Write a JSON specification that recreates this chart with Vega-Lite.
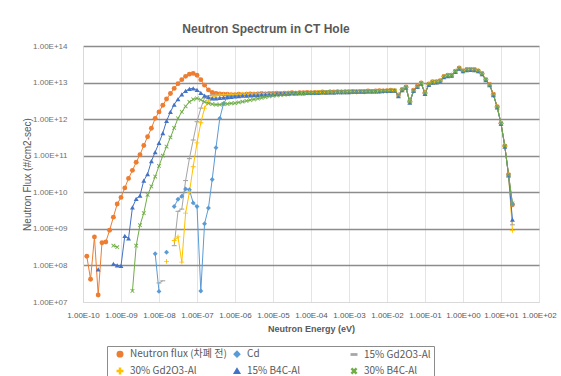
{
"$schema":"https://vega.github.io/schema/vega-lite/v6.json",
"width":456,"height":256,
"autosize":{"type":"none"},
"padding":{"left":83,"top":46,"right":22,"bottom":74},
"background":"white",
"title":{"text":"Neutron Spectrum in CT Hole","font":"Liberation Sans","fontSize":12,"fontWeight":"bold","color":"#595959","anchor":"middle","dx":-45,"offset":6},
"config":{"view":{"stroke":null}},
"data":{"values":[
{"s":"n","e":1.26e-10,"v":1.78e8},{"s":"n","e":1.58e-10,"v":4.17e7},{"s":"n","e":2e-10,"v":6.03e8},{"s":"n","e":2.51e-10,"v":1.55e7},{"s":"n","e":3.16e-10,"v":4.17e8},{"s":"n","e":3.98e-10,"v":4.37e8},{"s":"n","e":5.01e-10,"v":9.12e8},{"s":"n","e":6.31e-10,"v":2.09e9},{"s":"n","e":7.94e-10,"v":4.79e9},{"s":"n","e":1e-9,"v":7.24e9},
{"s":"n","e":1.26e-9,"v":1.32e10},{"s":"n","e":1.58e-9,"v":2.4e10},{"s":"n","e":2e-9,"v":3.98e10},{"s":"n","e":2.51e-9,"v":6.61e10},{"s":"n","e":3.16e-9,"v":1.07e11},{"s":"n","e":3.98e-9,"v":1.91e11},{"s":"n","e":5.01e-9,"v":3.31e11},{"s":"n","e":6.31e-9,"v":5.62e11},{"s":"n","e":7.94e-9,"v":1.05e12},{"s":"n","e":1e-8,"v":1.58e12},
{"s":"n","e":1.26e-8,"v":2.4e12},{"s":"n","e":1.58e-8,"v":3.55e12},{"s":"n","e":2e-8,"v":5.01e12},{"s":"n","e":2.51e-8,"v":6.92e12},{"s":"n","e":3.16e-8,"v":9.33e12},{"s":"n","e":3.98e-8,"v":1.2e13},{"s":"n","e":5.01e-8,"v":1.48e13},{"s":"n","e":6.31e-8,"v":1.7e13},{"s":"n","e":7.94e-8,"v":1.78e13},{"s":"n","e":1e-7,"v":1.58e13},
{"s":"n","e":1.26e-7,"v":1.2e13},{"s":"n","e":1.58e-7,"v":8.51e12},{"s":"n","e":2e-7,"v":6.31e12},{"s":"n","e":2.51e-7,"v":5.37e12},{"s":"n","e":3.16e-7,"v":5.01e12},{"s":"n","e":3.98e-7,"v":4.9e12},{"s":"n","e":5.01e-7,"v":4.79e12},{"s":"n","e":6.31e-7,"v":4.79e12},{"s":"n","e":7.94e-7,"v":4.68e12},{"s":"n","e":1e-6,"v":4.68e12},
{"s":"n","e":1.26e-6,"v":4.79e12},{"s":"n","e":1.58e-6,"v":4.68e12},{"s":"n","e":2e-6,"v":4.79e12},{"s":"n","e":2.51e-6,"v":4.9e12},{"s":"n","e":3.16e-6,"v":4.79e12},{"s":"n","e":3.98e-6,"v":4.9e12},{"s":"n","e":5.01e-6,"v":5.01e12},{"s":"n","e":6.31e-6,"v":4.9e12},{"s":"n","e":7.94e-6,"v":5.01e12},{"s":"n","e":1e-5,"v":5.01e12},
{"s":"n","e":1.26e-5,"v":5.13e12},{"s":"n","e":1.58e-5,"v":5.01e12},{"s":"n","e":2e-5,"v":5.13e12},{"s":"n","e":2.51e-5,"v":5.13e12},{"s":"n","e":3.16e-5,"v":5.25e12},{"s":"n","e":3.98e-5,"v":5.13e12},{"s":"n","e":5.01e-5,"v":5.25e12},{"s":"n","e":6.31e-5,"v":5.25e12},{"s":"n","e":7.94e-5,"v":5.37e12},{"s":"n","e":1e-4,"v":5.25e12},
{"s":"n","e":1.26e-4,"v":5.37e12},{"s":"n","e":1.58e-4,"v":5.37e12},{"s":"n","e":2e-4,"v":5.5e12},{"s":"n","e":2.51e-4,"v":5.37e12},{"s":"n","e":3.16e-4,"v":5.5e12},{"s":"n","e":3.98e-4,"v":5.5e12},{"s":"n","e":5.01e-4,"v":5.62e12},{"s":"n","e":6.31e-4,"v":5.5e12},{"s":"n","e":7.94e-4,"v":5.62e12},{"s":"n","e":1e-3,"v":5.62e12},
{"s":"n","e":1.26e-3,"v":5.75e12},{"s":"n","e":1.58e-3,"v":5.62e12},{"s":"n","e":2e-3,"v":5.75e12},{"s":"n","e":2.51e-3,"v":5.75e12},{"s":"n","e":3.16e-3,"v":5.89e12},{"s":"n","e":3.98e-3,"v":5.75e12},{"s":"n","e":5.01e-3,"v":5.89e12},{"s":"n","e":6.31e-3,"v":6.03e12},{"s":"n","e":7.94e-3,"v":5.89e12},{"s":"n","e":1e-2,"v":6.03e12},
{"s":"n","e":1.26e-2,"v":6.17e12},{"s":"n","e":1.58e-2,"v":6.03e12},{"s":"n","e":2e-2,"v":4.57e12},{"s":"n","e":2.51e-2,"v":6.46e12},{"s":"n","e":3.16e-2,"v":7.59e12},{"s":"n","e":3.98e-2,"v":3.09e12},{"s":"n","e":5.01e-2,"v":6.17e12},{"s":"n","e":6.31e-2,"v":7.94e12},{"s":"n","e":7.94e-2,"v":9.77e12},{"s":"n","e":0.1,"v":5.25e12},
{"s":"n","e":0.126,"v":9.12e12},{"s":"n","e":0.158,"v":1.05e13},{"s":"n","e":0.2,"v":1.05e13},{"s":"n","e":0.251,"v":1.12e13},{"s":"n","e":0.316,"v":1.48e13},{"s":"n","e":0.398,"v":1.58e13},{"s":"n","e":0.501,"v":1.58e13},{"s":"n","e":0.631,"v":2.04e13},{"s":"n","e":0.794,"v":2.51e13},{"s":"n","e":1,"v":2.09e13},
{"s":"n","e":1.26,"v":2.29e13},{"s":"n","e":1.58,"v":2.29e13},{"s":"n","e":2,"v":2.29e13},{"s":"n","e":2.51,"v":2.09e13},{"s":"n","e":3.16,"v":1.78e13},{"s":"n","e":3.98,"v":1.2e13},{"s":"n","e":5.01,"v":8.91e12},{"s":"n","e":6.31,"v":4.79e12},{"s":"n","e":7.94,"v":2.19e12},{"s":"n","e":10,"v":7.76e11},
{"s":"n","e":12.6,"v":1.86e11},{"s":"n","e":15.8,"v":3.02e10},{"s":"n","e":20,"v":4.57e9},

{"s":"cd","e":7.94e-9,"v":2.09e8},{"s":"cd","e":1e-8,"v":1.95e7},{"s":"cd","e":1.26e-8,"v":null},{"s":"cd","e":1.58e-8,"v":2.29e8},{"s":"cd","e":2e-8,"v":null},{"s":"cd","e":2.51e-8,"v":4.07e9},{"s":"cd","e":3.16e-8,"v":6.46e9},{"s":"cd","e":3.98e-8,"v":7.76e9},{"s":"cd","e":5.01e-8,"v":1.23e10},{"s":"cd","e":6.31e-8,"v":1.17e10},{"s":"cd","e":7.94e-8,"v":5.13e9},{"s":"cd","e":1e-7,"v":4.07e9},
{"s":"cd","e":1.26e-7,"v":2e7},{"s":"cd","e":1.58e-7,"v":1.38e9},{"s":"cd","e":2e-7,"v":3.72e9},{"s":"cd","e":2.51e-7,"v":2.24e10},{"s":"cd","e":3.16e-7,"v":1.66e11},{"s":"cd","e":3.98e-7,"v":1.05e12},{"s":"cd","e":5.01e-7,"v":2.69e12},{"s":"cd","e":6.31e-7,"v":3.98e12},{"s":"cd","e":7.94e-7,"v":4.27e12},{"s":"cd","e":1e-6,"v":4.37e12},
{"s":"cd","e":1.26e-6,"v":4.47e12},{"s":"cd","e":1.58e-6,"v":4.57e12},{"s":"cd","e":2e-6,"v":4.57e12},{"s":"cd","e":2.51e-6,"v":4.68e12},{"s":"cd","e":3.16e-6,"v":4.68e12},{"s":"cd","e":3.98e-6,"v":4.79e12},{"s":"cd","e":5.01e-6,"v":4.79e12},{"s":"cd","e":6.31e-6,"v":4.9e12},{"s":"cd","e":7.94e-6,"v":4.9e12},{"s":"cd","e":1e-5,"v":4.9e12},
{"s":"cd","e":1.26e-5,"v":5.01e12},{"s":"cd","e":1.58e-5,"v":5.01e12},{"s":"cd","e":2e-5,"v":5.01e12},{"s":"cd","e":2.51e-5,"v":5.13e12},{"s":"cd","e":3.16e-5,"v":5.13e12},{"s":"cd","e":3.98e-5,"v":5.13e12},{"s":"cd","e":5.01e-5,"v":5.25e12},{"s":"cd","e":6.31e-5,"v":5.13e12},{"s":"cd","e":7.94e-5,"v":5.25e12},{"s":"cd","e":1e-4,"v":5.25e12},
{"s":"cd","e":1.26e-4,"v":5.25e12},{"s":"cd","e":1.58e-4,"v":5.37e12},{"s":"cd","e":2e-4,"v":5.37e12},{"s":"cd","e":2.51e-4,"v":5.37e12},{"s":"cd","e":3.16e-4,"v":5.5e12},{"s":"cd","e":3.98e-4,"v":5.37e12},{"s":"cd","e":5.01e-4,"v":5.5e12},{"s":"cd","e":6.31e-4,"v":5.5e12},{"s":"cd","e":7.94e-4,"v":5.5e12},{"s":"cd","e":1e-3,"v":5.62e12},
{"s":"cd","e":1.26e-3,"v":5.62e12},{"s":"cd","e":1.58e-3,"v":5.62e12},{"s":"cd","e":2e-3,"v":5.75e12},{"s":"cd","e":2.51e-3,"v":5.62e12},{"s":"cd","e":3.16e-3,"v":5.75e12},{"s":"cd","e":3.98e-3,"v":5.75e12},{"s":"cd","e":5.01e-3,"v":5.75e12},{"s":"cd","e":6.31e-3,"v":5.89e12},{"s":"cd","e":7.94e-3,"v":5.89e12},{"s":"cd","e":1e-2,"v":5.89e12},
{"s":"cd","e":1.26e-2,"v":6.03e12},{"s":"cd","e":1.58e-2,"v":6.03e12},{"s":"cd","e":2e-2,"v":4.47e12},{"s":"cd","e":2.51e-2,"v":6.31e12},{"s":"cd","e":3.16e-2,"v":7.41e12},{"s":"cd","e":3.98e-2,"v":2.95e12},{"s":"cd","e":5.01e-2,"v":6.03e12},{"s":"cd","e":6.31e-2,"v":7.76e12},{"s":"cd","e":7.94e-2,"v":9.55e12},{"s":"cd","e":0.1,"v":5.13e12},
{"s":"cd","e":0.126,"v":8.91e12},{"s":"cd","e":0.158,"v":1.02e13},{"s":"cd","e":0.2,"v":1.05e13},{"s":"cd","e":0.251,"v":1.1e13},{"s":"cd","e":0.316,"v":1.45e13},{"s":"cd","e":0.398,"v":1.55e13},{"s":"cd","e":0.501,"v":1.58e13},{"s":"cd","e":0.631,"v":2e13},{"s":"cd","e":0.794,"v":2.45e13},{"s":"cd","e":1,"v":2.09e13},
{"s":"cd","e":1.26,"v":2.24e13},{"s":"cd","e":1.58,"v":2.29e13},{"s":"cd","e":2,"v":2.24e13},{"s":"cd","e":2.51,"v":2.09e13},{"s":"cd","e":3.16,"v":1.74e13},{"s":"cd","e":3.98,"v":1.2e13},{"s":"cd","e":5.01,"v":8.71e12},{"s":"cd","e":6.31,"v":4.68e12},{"s":"cd","e":7.94,"v":2.14e12},{"s":"cd","e":10,"v":7.59e11},
{"s":"cd","e":12.6,"v":1.82e11},{"s":"cd","e":15.8,"v":2.95e10},{"s":"cd","e":20,"v":4.79e9},

{"s":"g15","e":1e-8,"v":3.31e7},{"s":"g15","e":1.26e-8,"v":3.8e7},{"s":"g15","e":1.58e-8,"v":null},{"s":"g15","e":2.51e-8,"v":3.47e8},{"s":"g15","e":3.16e-8,"v":3.02e9},{"s":"g15","e":3.98e-8,"v":3.47e9},{"s":"g15","e":5.01e-8,"v":2.09e10},{"s":"g15","e":6.31e-8,"v":8.32e10},{"s":"g15","e":7.94e-8,"v":2.69e11},{"s":"g15","e":1e-7,"v":8.51e11},
{"s":"g15","e":1.26e-7,"v":2e12},{"s":"g15","e":1.58e-7,"v":3.8e12},{"s":"g15","e":2e-7,"v":4.37e12},{"s":"g15","e":2.51e-7,"v":4.57e12},{"s":"g15","e":3.16e-7,"v":4.57e12},{"s":"g15","e":3.98e-7,"v":4.57e12},{"s":"g15","e":5.01e-7,"v":4.68e12},{"s":"g15","e":6.31e-7,"v":4.68e12},{"s":"g15","e":7.94e-7,"v":4.57e12},{"s":"g15","e":1e-6,"v":4.68e12},
{"s":"g15","e":1.26e-6,"v":4.68e12},{"s":"g15","e":1.58e-6,"v":4.79e12},{"s":"g15","e":2e-6,"v":4.68e12},{"s":"g15","e":2.51e-6,"v":4.79e12},{"s":"g15","e":3.16e-6,"v":4.79e12},{"s":"g15","e":3.98e-6,"v":4.9e12},{"s":"g15","e":5.01e-6,"v":4.9e12},{"s":"g15","e":6.31e-6,"v":4.9e12},{"s":"g15","e":7.94e-6,"v":5.01e12},{"s":"g15","e":1e-5,"v":4.9e12},
{"s":"g15","e":1.26e-5,"v":5.01e12},{"s":"g15","e":1.58e-5,"v":5.01e12},{"s":"g15","e":2e-5,"v":5.13e12},{"s":"g15","e":2.51e-5,"v":5.13e12},{"s":"g15","e":3.16e-5,"v":5.13e12},{"s":"g15","e":3.98e-5,"v":5.13e12},{"s":"g15","e":5.01e-5,"v":5.25e12},{"s":"g15","e":6.31e-5,"v":5.25e12},{"s":"g15","e":7.94e-5,"v":5.25e12},{"s":"g15","e":1e-4,"v":5.25e12},
{"s":"g15","e":1.26e-4,"v":5.37e12},{"s":"g15","e":1.58e-4,"v":5.37e12},{"s":"g15","e":2e-4,"v":5.37e12},{"s":"g15","e":2.51e-4,"v":5.37e12},{"s":"g15","e":3.16e-4,"v":5.5e12},{"s":"g15","e":3.98e-4,"v":5.5e12},{"s":"g15","e":5.01e-4,"v":5.5e12},{"s":"g15","e":6.31e-4,"v":5.5e12},{"s":"g15","e":7.94e-4,"v":5.62e12},{"s":"g15","e":1e-3,"v":5.62e12},
{"s":"g15","e":1.26e-3,"v":5.62e12},{"s":"g15","e":1.58e-3,"v":5.62e12},{"s":"g15","e":2e-3,"v":5.75e12},{"s":"g15","e":2.51e-3,"v":5.75e12},{"s":"g15","e":3.16e-3,"v":5.75e12},{"s":"g15","e":3.98e-3,"v":5.75e12},{"s":"g15","e":5.01e-3,"v":5.89e12},{"s":"g15","e":6.31e-3,"v":5.89e12},{"s":"g15","e":7.94e-3,"v":5.89e12},{"s":"g15","e":1e-2,"v":5.89e12},
{"s":"g15","e":1.26e-2,"v":6.03e12},{"s":"g15","e":1.58e-2,"v":6.03e12},{"s":"g15","e":2e-2,"v":4.47e12},{"s":"g15","e":2.51e-2,"v":6.31e12},{"s":"g15","e":3.16e-2,"v":7.41e12},{"s":"g15","e":3.98e-2,"v":2.95e12},{"s":"g15","e":5.01e-2,"v":6.03e12},{"s":"g15","e":6.31e-2,"v":7.76e12},{"s":"g15","e":7.94e-2,"v":9.55e12},{"s":"g15","e":0.1,"v":5.13e12},
{"s":"g15","e":0.126,"v":8.91e12},{"s":"g15","e":0.158,"v":1.02e13},{"s":"g15","e":0.2,"v":1.05e13},{"s":"g15","e":0.251,"v":1.1e13},{"s":"g15","e":0.316,"v":1.45e13},{"s":"g15","e":0.398,"v":1.55e13},{"s":"g15","e":0.501,"v":1.58e13},{"s":"g15","e":0.631,"v":2e13},{"s":"g15","e":0.794,"v":2.45e13},{"s":"g15","e":1,"v":2.09e13},
{"s":"g15","e":1.26,"v":2.24e13},{"s":"g15","e":1.58,"v":2.29e13},{"s":"g15","e":2,"v":2.24e13},{"s":"g15","e":2.51,"v":2.09e13},{"s":"g15","e":3.16,"v":1.74e13},{"s":"g15","e":3.98,"v":1.2e13},{"s":"g15","e":5.01,"v":8.71e12},{"s":"g15","e":6.31,"v":4.68e12},{"s":"g15","e":7.94,"v":2.14e12},{"s":"g15","e":10,"v":7.59e11},
{"s":"g15","e":12.6,"v":1.82e11},{"s":"g15","e":15.8,"v":2.95e10},{"s":"g15","e":20,"v":1.29e9},

{"s":"g30","e":1.58e-8,"v":1.29e8},{"s":"g30","e":2e-8,"v":null},{"s":"g30","e":2.51e-8,"v":4.79e8},{"s":"g30","e":3.16e-8,"v":6.03e8},{"s":"g30","e":3.98e-8,"v":1.23e8},{"s":"g30","e":5.01e-8,"v":2.69e9},{"s":"g30","e":6.31e-8,"v":1e10},{"s":"g30","e":7.94e-8,"v":5.01e10},{"s":"g30","e":1e-7,"v":2.24e11},
{"s":"g30","e":1.26e-7,"v":7.94e11},{"s":"g30","e":1.58e-7,"v":2e12},{"s":"g30","e":2e-7,"v":3.16e12},{"s":"g30","e":2.51e-7,"v":3.98e12},{"s":"g30","e":3.16e-7,"v":4.37e12},{"s":"g30","e":3.98e-7,"v":4.57e12},{"s":"g30","e":5.01e-7,"v":4.68e12},{"s":"g30","e":6.31e-7,"v":4.68e12},{"s":"g30","e":7.94e-7,"v":4.79e12},{"s":"g30","e":1e-6,"v":4.68e12},
{"s":"g30","e":1.26e-6,"v":4.79e12},{"s":"g30","e":1.58e-6,"v":4.79e12},{"s":"g30","e":2e-6,"v":4.79e12},{"s":"g30","e":2.51e-6,"v":4.9e12},{"s":"g30","e":3.16e-6,"v":4.9e12},{"s":"g30","e":3.98e-6,"v":4.9e12},{"s":"g30","e":5.01e-6,"v":5.01e12},{"s":"g30","e":6.31e-6,"v":5.01e12},{"s":"g30","e":7.94e-6,"v":5.01e12},{"s":"g30","e":1e-5,"v":4.9e12},
{"s":"g30","e":1.26e-5,"v":5.01e12},{"s":"g30","e":1.58e-5,"v":5.01e12},{"s":"g30","e":2e-5,"v":5.01e12},{"s":"g30","e":2.51e-5,"v":5.13e12},{"s":"g30","e":3.16e-5,"v":5.13e12},{"s":"g30","e":3.98e-5,"v":5.13e12},{"s":"g30","e":5.01e-5,"v":5.25e12},{"s":"g30","e":6.31e-5,"v":5.13e12},{"s":"g30","e":7.94e-5,"v":5.25e12},{"s":"g30","e":1e-4,"v":5.25e12},
{"s":"g30","e":1.26e-4,"v":5.25e12},{"s":"g30","e":1.58e-4,"v":5.37e12},{"s":"g30","e":2e-4,"v":5.37e12},{"s":"g30","e":2.51e-4,"v":5.37e12},{"s":"g30","e":3.16e-4,"v":5.5e12},{"s":"g30","e":3.98e-4,"v":5.37e12},{"s":"g30","e":5.01e-4,"v":5.5e12},{"s":"g30","e":6.31e-4,"v":5.5e12},{"s":"g30","e":7.94e-4,"v":5.5e12},{"s":"g30","e":1e-3,"v":5.62e12},
{"s":"g30","e":1.26e-3,"v":5.62e12},{"s":"g30","e":1.58e-3,"v":5.62e12},{"s":"g30","e":2e-3,"v":5.75e12},{"s":"g30","e":2.51e-3,"v":5.62e12},{"s":"g30","e":3.16e-3,"v":5.75e12},{"s":"g30","e":3.98e-3,"v":5.75e12},{"s":"g30","e":5.01e-3,"v":5.75e12},{"s":"g30","e":6.31e-3,"v":5.89e12},{"s":"g30","e":7.94e-3,"v":5.89e12},{"s":"g30","e":1e-2,"v":5.89e12},
{"s":"g30","e":1.26e-2,"v":6.03e12},{"s":"g30","e":1.58e-2,"v":6.03e12},{"s":"g30","e":2e-2,"v":4.47e12},{"s":"g30","e":2.51e-2,"v":6.31e12},{"s":"g30","e":3.16e-2,"v":7.41e12},{"s":"g30","e":3.98e-2,"v":2.95e12},{"s":"g30","e":5.01e-2,"v":6.03e12},{"s":"g30","e":6.31e-2,"v":7.76e12},{"s":"g30","e":7.94e-2,"v":9.55e12},{"s":"g30","e":0.1,"v":5.13e12},
{"s":"g30","e":0.126,"v":8.91e12},{"s":"g30","e":0.158,"v":1.02e13},{"s":"g30","e":0.2,"v":1.05e13},{"s":"g30","e":0.251,"v":1.1e13},{"s":"g30","e":0.316,"v":1.45e13},{"s":"g30","e":0.398,"v":1.55e13},{"s":"g30","e":0.501,"v":1.58e13},{"s":"g30","e":0.631,"v":2e13},{"s":"g30","e":0.794,"v":2.45e13},{"s":"g30","e":1,"v":2.09e13},
{"s":"g30","e":1.26,"v":2.24e13},{"s":"g30","e":1.58,"v":2.29e13},{"s":"g30","e":2,"v":2.24e13},{"s":"g30","e":2.51,"v":2.09e13},{"s":"g30","e":3.16,"v":1.74e13},{"s":"g30","e":3.98,"v":1.2e13},{"s":"g30","e":5.01,"v":8.71e12},{"s":"g30","e":6.31,"v":4.68e12},{"s":"g30","e":7.94,"v":2.14e12},{"s":"g30","e":10,"v":7.59e11},
{"s":"g30","e":12.6,"v":1.82e11},{"s":"g30","e":15.8,"v":2.95e10},{"s":"g30","e":20,"v":9.12e8},

{"s":"b15","e":2.51e-10,"v":7.76e7},{"s":"b15","e":3.16e-10,"v":null},{"s":"b15","e":6.31e-10,"v":1.1e8},{"s":"b15","e":7.94e-10,"v":1e8},{"s":"b15","e":1e-9,"v":9.77e7},
{"s":"b15","e":1.26e-9,"v":6.46e8},{"s":"b15","e":1.58e-9,"v":5.5e8},{"s":"b15","e":2e-9,"v":3.89e9},{"s":"b15","e":2.51e-9,"v":6.61e9},{"s":"b15","e":3.16e-9,"v":8.13e9},{"s":"b15","e":3.98e-9,"v":2.09e10},{"s":"b15","e":5.01e-9,"v":3.16e10},{"s":"b15","e":6.31e-9,"v":7.08e10},{"s":"b15","e":7.94e-9,"v":1.26e11},{"s":"b15","e":1e-8,"v":2.24e11},
{"s":"b15","e":1.26e-8,"v":4.17e11},{"s":"b15","e":1.58e-8,"v":8.91e11},{"s":"b15","e":2e-8,"v":1.58e12},{"s":"b15","e":2.51e-8,"v":2.51e12},{"s":"b15","e":3.16e-8,"v":3.55e12},{"s":"b15","e":3.98e-8,"v":4.79e12},{"s":"b15","e":5.01e-8,"v":5.89e12},{"s":"b15","e":6.31e-8,"v":6.76e12},{"s":"b15","e":7.94e-8,"v":6.92e12},{"s":"b15","e":1e-7,"v":6.31e12},
{"s":"b15","e":1.26e-7,"v":5.25e12},{"s":"b15","e":1.58e-7,"v":4.37e12},{"s":"b15","e":2e-7,"v":3.98e12},{"s":"b15","e":2.51e-7,"v":3.72e12},{"s":"b15","e":3.16e-7,"v":3.72e12},{"s":"b15","e":3.98e-7,"v":3.8e12},{"s":"b15","e":5.01e-7,"v":3.89e12},{"s":"b15","e":6.31e-7,"v":3.98e12},{"s":"b15","e":7.94e-7,"v":4.07e12},{"s":"b15","e":1e-6,"v":4.17e12},
{"s":"b15","e":1.26e-6,"v":4.27e12},{"s":"b15","e":1.58e-6,"v":4.37e12},{"s":"b15","e":2e-6,"v":4.37e12},{"s":"b15","e":2.51e-6,"v":4.47e12},{"s":"b15","e":3.16e-6,"v":4.57e12},{"s":"b15","e":3.98e-6,"v":4.57e12},{"s":"b15","e":5.01e-6,"v":4.68e12},{"s":"b15","e":6.31e-6,"v":4.68e12},{"s":"b15","e":7.94e-6,"v":4.79e12},{"s":"b15","e":1e-5,"v":4.79e12},
{"s":"b15","e":1.26e-5,"v":4.9e12},{"s":"b15","e":1.58e-5,"v":5.01e12},{"s":"b15","e":2e-5,"v":5.01e12},{"s":"b15","e":2.51e-5,"v":5.01e12},{"s":"b15","e":3.16e-5,"v":5.13e12},{"s":"b15","e":3.98e-5,"v":5.13e12},{"s":"b15","e":5.01e-5,"v":5.13e12},{"s":"b15","e":6.31e-5,"v":5.13e12},{"s":"b15","e":7.94e-5,"v":5.25e12},{"s":"b15","e":1e-4,"v":5.25e12},
{"s":"b15","e":1.26e-4,"v":5.25e12},{"s":"b15","e":1.58e-4,"v":5.25e12},{"s":"b15","e":2e-4,"v":5.37e12},{"s":"b15","e":2.51e-4,"v":5.37e12},{"s":"b15","e":3.16e-4,"v":5.37e12},{"s":"b15","e":3.98e-4,"v":5.37e12},{"s":"b15","e":5.01e-4,"v":5.5e12},{"s":"b15","e":6.31e-4,"v":5.5e12},{"s":"b15","e":7.94e-4,"v":5.5e12},{"s":"b15","e":1e-3,"v":5.5e12},
{"s":"b15","e":1.26e-3,"v":5.62e12},{"s":"b15","e":1.58e-3,"v":5.62e12},{"s":"b15","e":2e-3,"v":5.62e12},{"s":"b15","e":2.51e-3,"v":5.62e12},{"s":"b15","e":3.16e-3,"v":5.75e12},{"s":"b15","e":3.98e-3,"v":5.75e12},{"s":"b15","e":5.01e-3,"v":5.75e12},{"s":"b15","e":6.31e-3,"v":5.75e12},{"s":"b15","e":7.94e-3,"v":5.89e12},{"s":"b15","e":1e-2,"v":5.89e12},
{"s":"b15","e":1.26e-2,"v":5.89e12},{"s":"b15","e":1.58e-2,"v":6.03e12},{"s":"b15","e":2e-2,"v":4.27e12},{"s":"b15","e":2.51e-2,"v":6.17e12},{"s":"b15","e":3.16e-2,"v":7.24e12},{"s":"b15","e":3.98e-2,"v":2.82e12},{"s":"b15","e":5.01e-2,"v":5.89e12},{"s":"b15","e":6.31e-2,"v":7.59e12},{"s":"b15","e":7.94e-2,"v":9.33e12},{"s":"b15","e":0.1,"v":4.9e12},
{"s":"b15","e":0.126,"v":8.71e12},{"s":"b15","e":0.158,"v":1e13},{"s":"b15","e":0.2,"v":1.02e13},{"s":"b15","e":0.251,"v":1.07e13},{"s":"b15","e":0.316,"v":1.41e13},{"s":"b15","e":0.398,"v":1.51e13},{"s":"b15","e":0.501,"v":1.55e13},{"s":"b15","e":0.631,"v":1.95e13},{"s":"b15","e":0.794,"v":2.4e13},{"s":"b15","e":1,"v":2.04e13},
{"s":"b15","e":1.26,"v":2.19e13},{"s":"b15","e":1.58,"v":2.24e13},{"s":"b15","e":2,"v":2.19e13},{"s":"b15","e":2.51,"v":2.04e13},{"s":"b15","e":3.16,"v":1.7e13},{"s":"b15","e":3.98,"v":1.17e13},{"s":"b15","e":5.01,"v":8.51e12},{"s":"b15","e":6.31,"v":4.57e12},{"s":"b15","e":7.94,"v":2.09e12},{"s":"b15","e":10,"v":7.41e11},
{"s":"b15","e":12.6,"v":1.78e11},{"s":"b15","e":15.8,"v":2.88e10},{"s":"b15","e":20,"v":1.78e9},

{"s":"b30","e":6.31e-10,"v":3.47e8},{"s":"b30","e":7.94e-10,"v":3.16e8},{"s":"b30","e":1e-9,"v":null},{"s":"b30","e":2e-9,"v":2e7},{"s":"b30","e":2.51e-9,"v":3.47e8},{"s":"b30","e":3.16e-9,"v":1.26e9},{"s":"b30","e":3.98e-9,"v":2.69e9},{"s":"b30","e":5.01e-9,"v":8.51e9},{"s":"b30","e":6.31e-9,"v":1.45e10},{"s":"b30","e":7.94e-9,"v":2.69e10},{"s":"b30","e":1e-8,"v":5.25e10},
{"s":"b30","e":1.26e-8,"v":1e11},{"s":"b30","e":1.58e-8,"v":1.78e11},{"s":"b30","e":2e-8,"v":3.16e11},{"s":"b30","e":2.51e-8,"v":5.75e11},{"s":"b30","e":3.16e-8,"v":1.05e12},{"s":"b30","e":3.98e-8,"v":1.58e12},{"s":"b30","e":5.01e-8,"v":2.24e12},{"s":"b30","e":6.31e-8,"v":2.95e12},{"s":"b30","e":7.94e-8,"v":3.47e12},{"s":"b30","e":1e-7,"v":3.72e12},
{"s":"b30","e":1.26e-7,"v":3.39e12},{"s":"b30","e":1.58e-7,"v":2.95e12},{"s":"b30","e":2e-7,"v":2.69e12},{"s":"b30","e":2.51e-7,"v":2.57e12},{"s":"b30","e":3.16e-7,"v":2.51e12},{"s":"b30","e":3.98e-7,"v":2.51e12},{"s":"b30","e":5.01e-7,"v":2.57e12},{"s":"b30","e":6.31e-7,"v":2.63e12},{"s":"b30","e":7.94e-7,"v":2.69e12},{"s":"b30","e":1e-6,"v":2.75e12},
{"s":"b30","e":1.26e-6,"v":2.88e12},{"s":"b30","e":1.58e-6,"v":3.02e12},{"s":"b30","e":2e-6,"v":3.16e12},{"s":"b30","e":2.51e-6,"v":3.31e12},{"s":"b30","e":3.16e-6,"v":3.47e12},{"s":"b30","e":3.98e-6,"v":3.63e12},{"s":"b30","e":5.01e-6,"v":3.8e12},{"s":"b30","e":6.31e-6,"v":3.98e12},{"s":"b30","e":7.94e-6,"v":4.17e12},{"s":"b30","e":1e-5,"v":4.37e12},
{"s":"b30","e":1.26e-5,"v":4.47e12},{"s":"b30","e":1.58e-5,"v":4.57e12},{"s":"b30","e":2e-5,"v":4.68e12},{"s":"b30","e":2.51e-5,"v":4.79e12},{"s":"b30","e":3.16e-5,"v":4.9e12},{"s":"b30","e":3.98e-5,"v":4.9e12},{"s":"b30","e":5.01e-5,"v":5.01e12},{"s":"b30","e":6.31e-5,"v":5.01e12},{"s":"b30","e":7.94e-5,"v":5.13e12},{"s":"b30","e":1e-4,"v":5.13e12},
{"s":"b30","e":1.26e-4,"v":5.13e12},{"s":"b30","e":1.58e-4,"v":5.25e12},{"s":"b30","e":2e-4,"v":5.37e12},{"s":"b30","e":2.51e-4,"v":5.37e12},{"s":"b30","e":3.16e-4,"v":5.5e12},{"s":"b30","e":3.98e-4,"v":5.37e12},{"s":"b30","e":5.01e-4,"v":5.5e12},{"s":"b30","e":6.31e-4,"v":5.5e12},{"s":"b30","e":7.94e-4,"v":5.5e12},{"s":"b30","e":1e-3,"v":5.62e12},
{"s":"b30","e":1.26e-3,"v":5.62e12},{"s":"b30","e":1.58e-3,"v":5.62e12},{"s":"b30","e":2e-3,"v":5.75e12},{"s":"b30","e":2.51e-3,"v":5.62e12},{"s":"b30","e":3.16e-3,"v":5.75e12},{"s":"b30","e":3.98e-3,"v":5.75e12},{"s":"b30","e":5.01e-3,"v":5.75e12},{"s":"b30","e":6.31e-3,"v":5.89e12},{"s":"b30","e":7.94e-3,"v":5.89e12},{"s":"b30","e":1e-2,"v":5.89e12},
{"s":"b30","e":1.26e-2,"v":6.03e12},{"s":"b30","e":1.58e-2,"v":6.03e12},{"s":"b30","e":2e-2,"v":4.47e12},{"s":"b30","e":2.51e-2,"v":6.31e12},{"s":"b30","e":3.16e-2,"v":7.41e12},{"s":"b30","e":3.98e-2,"v":2.95e12},{"s":"b30","e":5.01e-2,"v":6.03e12},{"s":"b30","e":6.31e-2,"v":7.76e12},{"s":"b30","e":7.94e-2,"v":9.55e12},{"s":"b30","e":0.1,"v":5.13e12},
{"s":"b30","e":0.126,"v":8.91e12},{"s":"b30","e":0.158,"v":1.02e13},{"s":"b30","e":0.2,"v":1.05e13},{"s":"b30","e":0.251,"v":1.1e13},{"s":"b30","e":0.316,"v":1.45e13},{"s":"b30","e":0.398,"v":1.55e13},{"s":"b30","e":0.501,"v":1.58e13},{"s":"b30","e":0.631,"v":2e13},{"s":"b30","e":0.794,"v":2.45e13},{"s":"b30","e":1,"v":2.09e13},
{"s":"b30","e":1.26,"v":2.24e13},{"s":"b30","e":1.58,"v":2.29e13},{"s":"b30","e":2,"v":2.24e13},{"s":"b30","e":2.51,"v":2.09e13},{"s":"b30","e":3.16,"v":1.74e13},{"s":"b30","e":3.98,"v":1.2e13},{"s":"b30","e":5.01,"v":8.71e12},{"s":"b30","e":6.31,"v":4.68e12},{"s":"b30","e":7.94,"v":2.14e12},{"s":"b30","e":10,"v":7.59e11},
{"s":"b30","e":12.6,"v":1.82e11},{"s":"b30","e":15.8,"v":2.95e10},{"s":"b30","e":20,"v":5.01e9}
]},
"encoding":{
"x":{"field":"e","type":"quantitative","scale":{"type":"log","domain":[1e-10,100]},
 "axis":{"values":[1e-10,1e-9,1e-8,1e-7,1e-6,1e-5,1e-4,1e-3,1e-2,1e-1,1,10,100],
 "labelExpr":"'1.00E' + (datum.value >= 1 ? '+' : '-') + (abs(round(log(datum.value)/LN10)) < 10 ? '0' : '') + abs(round(log(datum.value)/LN10))",
 "labelOverlap":false,"labelFlush":false,"labelFont":"Liberation Sans","labelFontSize":8,"labelColor":"#595959","labelPadding":9,
 "ticks":false,"domainColor":"#d9d9d9","grid":true,"gridColor":"#e4e4e4","gridWidth":1,
 "title":"Neutron Energy (eV)","titleFont":"Liberation Sans","titleFontSize":9,"titleFontWeight":"bold","titleColor":"#595959","titlePadding":5}},
"y":{"field":"v","type":"quantitative","scale":{"type":"log","domain":[1e7,1e14]},
 "axis":{"values":[1e7,1e8,1e9,1e10,1e11,1e12,1e13,1e14],
 "labelExpr":"'1.00E' + (datum.value >= 1 ? '+' : '-') + (abs(round(log(datum.value)/LN10)) < 10 ? '0' : '') + abs(round(log(datum.value)/LN10))",
 "labelOverlap":false,"labelFont":"Liberation Sans","labelFontSize":8,"labelColor":"#707070","labelPadding":16,
 "ticks":false,"domainColor":"#d9d9d9","grid":true,
 "gridColor":{"condition":{"test":"datum.value <= 1e7","value":"#d9d9d9"},"value":"#8c8c8c"},
 "gridWidth":{"condition":{"test":"datum.value <= 1e7","value":1},"value":1.5},
 "title":"Neutron Flux (#/cm2-sec)","titleFont":"Liberation Sans","titleFontSize":10,"titleFontWeight":"normal","titleColor":"#595959","titlePadding":0}},
"color":{"field":"s","type":"nominal",
 "scale":{"domain":["n","cd","g15","g30","b15","b30"],"range":["#ED7D31","#5B9BD5","#A5A5A5","#FFC000","#4472C4","#70AD47"]},
 "legend":{"title":null,"orient":"none","legendX":24,"legendY":300,"direction":"horizontal","columns":3,"gridAlign":"all","strokeColor":"#8c8c8c","fillColor":"white","padding":3,
  "labelFont":"Noto Sans CJK KR","labelFontSize":10,"labelColor":"#595959","labelLimit":300,"symbolSize":30,"symbolOffset":5,"labelOffset":5,"rowPadding":5,"columnPadding":-18,
  "labelExpr":"datum.label == 'n' ? 'Neutron flux (차폐 전)' : datum.label == 'cd' ? 'Cd' : datum.label == 'g15' ? '15% Gd2O3-Al' : datum.label == 'g30' ? '30% Gd2O3-Al' : datum.label == 'b15' ? '15% B4C-Al' : '30% B4C-Al'"}}
},
"layer":[
{"mark":{"type":"line","strokeWidth":1,"invalid":"break-paths-filter-domains"}},
{"mark":{"type":"point","filled":true,"size":24,"opacity":1,"strokeWidth":0},
 "encoding":{"shape":{"field":"s","type":"nominal",
  "scale":{"domain":["n","cd","g15","g30","b15","b30"],"range":["circle","diamond","M-1,-0.22H1V0.22H-1Z","M-1,-0.18H-0.18V-1H0.18V-0.18H1V0.18H0.18V1H-0.18V0.18H-1Z","triangle-up","M-0.87,-0.62L-0.62,-0.87L0,-0.25L0.62,-0.87L0.87,-0.62L0.25,0L0.87,0.62L0.62,0.87L0,0.25L-0.62,0.87L-0.87,0.62L-0.25,0Z"]},
  "legend":{"title":null,"orient":"none","legendX":24,"legendY":300,"direction":"horizontal","columns":3,"gridAlign":"all","strokeColor":"#8c8c8c","fillColor":"white","padding":3,
  "labelFont":"Noto Sans CJK KR","labelFontSize":10,"labelColor":"#595959","labelLimit":300,"symbolSize":30,"symbolOffset":5,"labelOffset":5,"rowPadding":5,"columnPadding":-18,
  "labelExpr":"datum.label == 'n' ? 'Neutron flux (차폐 전)' : datum.label == 'cd' ? 'Cd' : datum.label == 'g15' ? '15% Gd2O3-Al' : datum.label == 'g30' ? '30% Gd2O3-Al' : datum.label == 'b15' ? '15% B4C-Al' : '30% B4C-Al'"}}}}
]
}
